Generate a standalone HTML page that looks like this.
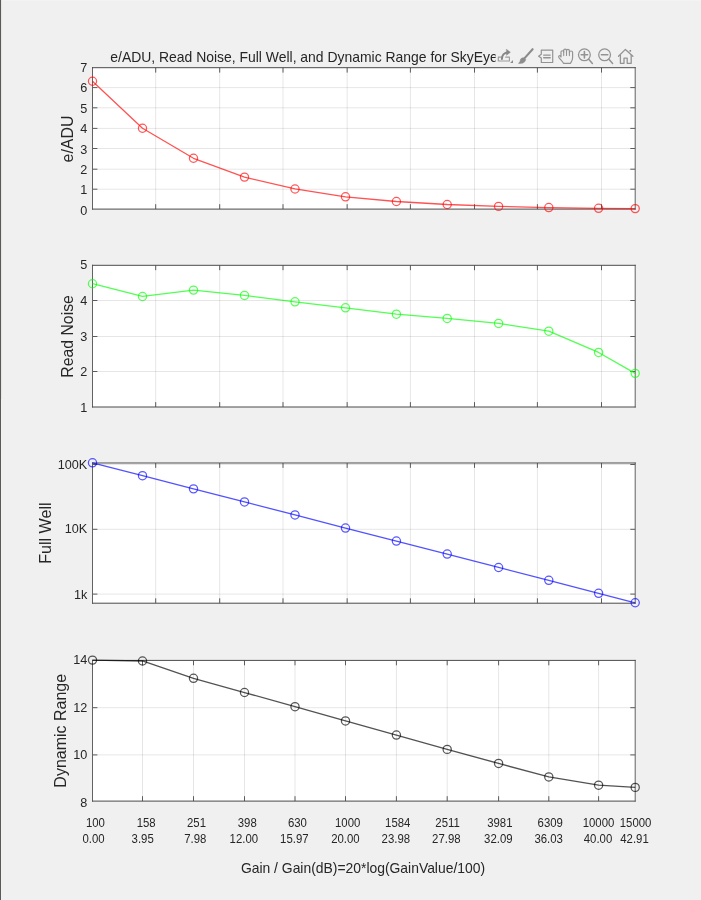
<!DOCTYPE html>
<html lang="en"><head><meta charset="utf-8"><title>e/ADU, Read Noise, Full Well, and Dynamic Range</title>
<style>html,body{margin:0;padding:0;background:#f0f0f0;overflow:hidden}svg{display:block}</style></head>
<body>
<svg width="701" height="900" viewBox="0 0 701 900" font-family='"Liberation Sans", sans-serif' fill="#262626">
<rect width="701" height="900" fill="#f0f0f0"/>
<rect x="0" y="0" width="701" height="1" fill="#f3f3f3"/>
<rect x="1" y="0" width="1" height="399" fill="#e6e6e6"/>
<rect x="1" y="399" width="1" height="501" fill="#f1f1f1"/>
<rect x="0" y="0" width="1" height="900" fill="#5a5a58"/>
<rect x="92.5" y="67.7" width="542.7" height="141.39999999999998" fill="#fff"/>
<path d="M155.70 67.7V209.1M219.70 67.7V209.1M283.00 67.7V209.1M347.15 67.7V209.1M410.40 67.7V209.1M474.50 67.7V209.1M537.40 67.7V209.1M601.50 67.7V209.1" stroke="#000" stroke-opacity="0.098" stroke-width="1" fill="none"/>
<path d="M92.5 189.20H635.2M92.5 169.20H635.2M92.5 148.50H635.2M92.5 128.40H635.2M92.5 107.80H635.2M92.5 87.60H635.2" stroke="#000" stroke-opacity="0.098" stroke-width="1" fill="none"/>
<path d="M155.7 209.1v-4.9M155.7 67.7v4.9M219.7 209.1v-4.9M219.7 67.7v4.9M283.0 209.1v-4.9M283.0 67.7v4.9M347.15 209.1v-4.9M347.15 67.7v4.9M410.4 209.1v-4.9M410.4 67.7v4.9M474.5 209.1v-4.9M474.5 67.7v4.9M537.4 209.1v-4.9M537.4 67.7v4.9M601.5 209.1v-4.9M601.5 67.7v4.9M92.5 189.2h4.9M635.2 189.2h-4.9M92.5 169.2h4.9M635.2 169.2h-4.9M92.5 148.5h4.9M635.2 148.5h-4.9M92.5 128.4h4.9M635.2 128.4h-4.9M92.5 107.8h4.9M635.2 107.8h-4.9M92.5 87.6h4.9M635.2 87.6h-4.9" stroke="#5c5c5c" stroke-width="1" fill="none"/>
<path d="M92.5 67.2V209.6M635.2 67.2V209.6" stroke="#626262" stroke-width="1" fill="none"/>
<path d="M92.0 67.7H635.7M92.0 209.1H635.7" stroke="#4a4a4a" stroke-width="1" fill="none"/>
<polyline points="92.50,81.23 142.50,128.24 193.50,158.28 244.50,177.12 295.00,188.97 345.50,196.79 396.40,201.51 447.20,204.50 498.60,206.38 548.80,207.57 598.60,208.32 635.20,208.60" fill="none" stroke="#ff0000" stroke-width="1.3" stroke-opacity="0.68" stroke-linejoin="round"/>
<circle cx="92.50" cy="81.23" r="4.1" fill="none" stroke="#ff0000" stroke-width="1.25" stroke-opacity="0.66"/>
<circle cx="142.50" cy="128.24" r="4.1" fill="none" stroke="#ff0000" stroke-width="1.25" stroke-opacity="0.66"/>
<circle cx="193.50" cy="158.28" r="4.1" fill="none" stroke="#ff0000" stroke-width="1.25" stroke-opacity="0.66"/>
<circle cx="244.50" cy="177.12" r="4.1" fill="none" stroke="#ff0000" stroke-width="1.25" stroke-opacity="0.66"/>
<circle cx="295.00" cy="188.97" r="4.1" fill="none" stroke="#ff0000" stroke-width="1.25" stroke-opacity="0.66"/>
<circle cx="345.50" cy="196.79" r="4.1" fill="none" stroke="#ff0000" stroke-width="1.25" stroke-opacity="0.66"/>
<circle cx="396.40" cy="201.51" r="4.1" fill="none" stroke="#ff0000" stroke-width="1.25" stroke-opacity="0.66"/>
<circle cx="447.20" cy="204.50" r="4.1" fill="none" stroke="#ff0000" stroke-width="1.25" stroke-opacity="0.66"/>
<circle cx="498.60" cy="206.38" r="4.1" fill="none" stroke="#ff0000" stroke-width="1.25" stroke-opacity="0.66"/>
<circle cx="548.80" cy="207.57" r="4.1" fill="none" stroke="#ff0000" stroke-width="1.25" stroke-opacity="0.66"/>
<circle cx="598.60" cy="208.32" r="4.1" fill="none" stroke="#ff0000" stroke-width="1.25" stroke-opacity="0.66"/>
<circle cx="635.20" cy="208.60" r="4.1" fill="none" stroke="#ff0000" stroke-width="1.25" stroke-opacity="0.66"/>
<text transform="translate(87.3 214.50) scale(.95 1)" text-anchor="end" font-size="13.33">0</text>
<text transform="translate(87.3 194.40) scale(.95 1)" text-anchor="end" font-size="13.33">1</text>
<text transform="translate(87.3 173.60) scale(.95 1)" text-anchor="end" font-size="13.33">2</text>
<text transform="translate(87.3 153.60) scale(.95 1)" text-anchor="end" font-size="13.33">3</text>
<text transform="translate(87.3 133.30) scale(.95 1)" text-anchor="end" font-size="13.33">4</text>
<text transform="translate(87.3 113.00) scale(.95 1)" text-anchor="end" font-size="13.33">5</text>
<text transform="translate(87.3 91.60) scale(.95 1)" text-anchor="end" font-size="13.33">6</text>
<text transform="translate(87.3 72.10) scale(.95 1)" text-anchor="end" font-size="13.33">7</text>
<text transform="translate(73 139.00) rotate(-90)" text-anchor="middle" font-size="15.9">e/ADU</text>
<text x="110.3" y="62" font-size="13.93">e/ADU, Read Noise, Full Well, and Dynamic Range for SkyEye</text>
<rect x="495.6" y="44" width="141.4" height="22.6" fill="#f0f0f0"/>
<rect x="92.5" y="265.3" width="542.7" height="141.7" fill="#fff"/>
<path d="M155.70 265.3V407.0M219.70 265.3V407.0M283.00 265.3V407.0M347.15 265.3V407.0M410.40 265.3V407.0M474.50 265.3V407.0M537.40 265.3V407.0M601.50 265.3V407.0" stroke="#000" stroke-opacity="0.098" stroke-width="1" fill="none"/>
<path d="M92.5 371.50H635.2M92.5 336.50H635.2M92.5 300.50H635.2" stroke="#000" stroke-opacity="0.098" stroke-width="1" fill="none"/>
<path d="M155.7 407.0v-4.9M155.7 265.3v4.9M219.7 407.0v-4.9M219.7 265.3v4.9M283.0 407.0v-4.9M283.0 265.3v4.9M347.15 407.0v-4.9M347.15 265.3v4.9M410.4 407.0v-4.9M410.4 265.3v4.9M474.5 407.0v-4.9M474.5 265.3v4.9M537.4 407.0v-4.9M537.4 265.3v4.9M601.5 407.0v-4.9M601.5 265.3v4.9M92.5 371.5h4.9M635.2 371.5h-4.9M92.5 336.5h4.9M635.2 336.5h-4.9M92.5 300.5h4.9M635.2 300.5h-4.9" stroke="#5c5c5c" stroke-width="1" fill="none"/>
<path d="M92.5 264.8V407.5M635.2 264.8V407.5" stroke="#626262" stroke-width="1" fill="none"/>
<path d="M92.0 265.3H635.7M92.0 407.0H635.7" stroke="#4a4a4a" stroke-width="1" fill="none"/>
<polyline points="92.50,283.72 142.50,296.47 193.50,290.10 244.50,295.41 295.00,301.79 345.50,307.81 396.40,314.19 447.20,318.44 498.60,323.40 548.80,331.19 598.60,352.45 635.20,373.35" fill="none" stroke="#00ff00" stroke-width="1.3" stroke-opacity="0.68" stroke-linejoin="round"/>
<circle cx="92.50" cy="283.72" r="4.1" fill="none" stroke="#00ff00" stroke-width="1.25" stroke-opacity="0.66"/>
<circle cx="142.50" cy="296.47" r="4.1" fill="none" stroke="#00ff00" stroke-width="1.25" stroke-opacity="0.66"/>
<circle cx="193.50" cy="290.10" r="4.1" fill="none" stroke="#00ff00" stroke-width="1.25" stroke-opacity="0.66"/>
<circle cx="244.50" cy="295.41" r="4.1" fill="none" stroke="#00ff00" stroke-width="1.25" stroke-opacity="0.66"/>
<circle cx="295.00" cy="301.79" r="4.1" fill="none" stroke="#00ff00" stroke-width="1.25" stroke-opacity="0.66"/>
<circle cx="345.50" cy="307.81" r="4.1" fill="none" stroke="#00ff00" stroke-width="1.25" stroke-opacity="0.66"/>
<circle cx="396.40" cy="314.19" r="4.1" fill="none" stroke="#00ff00" stroke-width="1.25" stroke-opacity="0.66"/>
<circle cx="447.20" cy="318.44" r="4.1" fill="none" stroke="#00ff00" stroke-width="1.25" stroke-opacity="0.66"/>
<circle cx="498.60" cy="323.40" r="4.1" fill="none" stroke="#00ff00" stroke-width="1.25" stroke-opacity="0.66"/>
<circle cx="548.80" cy="331.19" r="4.1" fill="none" stroke="#00ff00" stroke-width="1.25" stroke-opacity="0.66"/>
<circle cx="598.60" cy="352.45" r="4.1" fill="none" stroke="#00ff00" stroke-width="1.25" stroke-opacity="0.66"/>
<circle cx="635.20" cy="373.35" r="4.1" fill="none" stroke="#00ff00" stroke-width="1.25" stroke-opacity="0.66"/>
<text transform="translate(87.3 412.10) scale(.95 1)" text-anchor="end" font-size="13.33">1</text>
<text transform="translate(87.3 375.60) scale(.95 1)" text-anchor="end" font-size="13.33">2</text>
<text transform="translate(87.3 340.60) scale(.95 1)" text-anchor="end" font-size="13.33">3</text>
<text transform="translate(87.3 304.60) scale(.95 1)" text-anchor="end" font-size="13.33">4</text>
<text transform="translate(87.3 269.40) scale(.95 1)" text-anchor="end" font-size="13.33">5</text>
<text transform="translate(73 336.45) rotate(-90)" text-anchor="middle" font-size="15.8">Read Noise</text>
<rect x="92.5" y="463.0" width="542.7" height="140.20000000000005" fill="#fff"/>
<path d="M155.70 463.0V603.2M219.70 463.0V603.2M283.00 463.0V603.2M347.15 463.0V603.2M410.40 463.0V603.2M474.50 463.0V603.2M537.40 463.0V603.2M601.50 463.0V603.2" stroke="#000" stroke-opacity="0.098" stroke-width="1" fill="none"/>
<path d="M92.5 594.10H635.2M92.5 529.30H635.2M92.5 464.50H635.2" stroke="#000" stroke-opacity="0.098" stroke-width="1" fill="none"/>
<path d="M155.7 603.2v-4.9M155.7 463.0v4.9M219.7 603.2v-4.9M219.7 463.0v4.9M283.0 603.2v-4.9M283.0 463.0v4.9M347.15 603.2v-4.9M347.15 463.0v4.9M410.4 603.2v-4.9M410.4 463.0v4.9M474.5 603.2v-4.9M474.5 463.0v4.9M537.4 603.2v-4.9M537.4 463.0v4.9M601.5 603.2v-4.9M601.5 463.0v4.9M92.5 594.1h4.9M635.2 594.1h-4.9M92.5 529.3h4.9M635.2 529.3h-4.9M92.5 464.5h4.9M635.2 464.5h-4.9" stroke="#5c5c5c" stroke-width="1" fill="none"/>
<path d="M92.5 462.5V603.7M635.2 462.5V603.7" stroke="#626262" stroke-width="1" fill="none"/>
<path d="M92.0 463.0H635.7M92.0 603.2H635.7" stroke="#4a4a4a" stroke-width="1" fill="none"/>
<polyline points="92.50,462.82 142.50,475.70 193.50,488.85 244.50,501.96 295.00,514.91 345.50,528.05 396.40,541.04 447.20,554.08 498.60,567.49 548.80,580.34 598.60,593.29 635.20,602.78" fill="none" stroke="#0000ff" stroke-width="1.3" stroke-opacity="0.68" stroke-linejoin="round"/>
<circle cx="92.50" cy="462.82" r="4.1" fill="none" stroke="#0000ff" stroke-width="1.25" stroke-opacity="0.66"/>
<circle cx="142.50" cy="475.70" r="4.1" fill="none" stroke="#0000ff" stroke-width="1.25" stroke-opacity="0.66"/>
<circle cx="193.50" cy="488.85" r="4.1" fill="none" stroke="#0000ff" stroke-width="1.25" stroke-opacity="0.66"/>
<circle cx="244.50" cy="501.96" r="4.1" fill="none" stroke="#0000ff" stroke-width="1.25" stroke-opacity="0.66"/>
<circle cx="295.00" cy="514.91" r="4.1" fill="none" stroke="#0000ff" stroke-width="1.25" stroke-opacity="0.66"/>
<circle cx="345.50" cy="528.05" r="4.1" fill="none" stroke="#0000ff" stroke-width="1.25" stroke-opacity="0.66"/>
<circle cx="396.40" cy="541.04" r="4.1" fill="none" stroke="#0000ff" stroke-width="1.25" stroke-opacity="0.66"/>
<circle cx="447.20" cy="554.08" r="4.1" fill="none" stroke="#0000ff" stroke-width="1.25" stroke-opacity="0.66"/>
<circle cx="498.60" cy="567.49" r="4.1" fill="none" stroke="#0000ff" stroke-width="1.25" stroke-opacity="0.66"/>
<circle cx="548.80" cy="580.34" r="4.1" fill="none" stroke="#0000ff" stroke-width="1.25" stroke-opacity="0.66"/>
<circle cx="598.60" cy="593.29" r="4.1" fill="none" stroke="#0000ff" stroke-width="1.25" stroke-opacity="0.66"/>
<circle cx="635.20" cy="602.78" r="4.1" fill="none" stroke="#0000ff" stroke-width="1.25" stroke-opacity="0.66"/>
<text transform="translate(87.3 599.00) scale(.95 1)" text-anchor="end" font-size="13.33">1k</text>
<text transform="translate(87.3 533.10) scale(.95 1)" text-anchor="end" font-size="13.33">10K</text>
<text transform="translate(87.3 469.20) scale(.95 1)" text-anchor="end" font-size="13.33">100K</text>
<text transform="translate(50.6 533.10) rotate(-90)" text-anchor="middle" font-size="16.1">Full Well</text>
<rect x="92.5" y="660.4" width="542.7" height="140.70000000000005" fill="#fff"/>
<path d="M142.50 660.4V801.1M193.50 660.4V801.1M244.50 660.4V801.1M295.00 660.4V801.1M345.50 660.4V801.1M396.40 660.4V801.1M447.20 660.4V801.1M498.60 660.4V801.1M548.80 660.4V801.1M598.60 660.4V801.1" stroke="#000" stroke-opacity="0.098" stroke-width="1" fill="none"/>
<path d="M92.5 754.90H635.2M92.5 707.70H635.2" stroke="#000" stroke-opacity="0.098" stroke-width="1" fill="none"/>
<path d="M142.5 801.1v-4.9M142.5 660.4v4.9M193.5 801.1v-4.9M193.5 660.4v4.9M244.5 801.1v-4.9M244.5 660.4v4.9M295.0 801.1v-4.9M295.0 660.4v4.9M345.5 801.1v-4.9M345.5 660.4v4.9M396.4 801.1v-4.9M396.4 660.4v4.9M447.2 801.1v-4.9M447.2 660.4v4.9M498.6 801.1v-4.9M498.6 660.4v4.9M548.8 801.1v-4.9M548.8 660.4v4.9M598.6 801.1v-4.9M598.6 660.4v4.9M92.5 754.9h4.9M635.2 754.9h-4.9M92.5 707.7h4.9M635.2 707.7h-4.9" stroke="#5c5c5c" stroke-width="1" fill="none"/>
<path d="M92.5 659.9V801.6M635.2 659.9V801.6" stroke="#626262" stroke-width="1" fill="none"/>
<path d="M92.0 660.4H635.7M92.0 801.1H635.7" stroke="#4a4a4a" stroke-width="1" fill="none"/>
<polyline points="92.50,660.10 142.50,660.99 193.50,678.34 244.50,692.53 295.00,706.71 345.50,720.90 396.40,735.09 447.20,749.39 498.60,763.46 548.80,776.95 598.60,785.15 635.20,787.38" fill="none" stroke="#000000" stroke-width="1.3" stroke-opacity="0.68" stroke-linejoin="round"/>
<circle cx="92.50" cy="660.10" r="4.1" fill="none" stroke="#000000" stroke-width="1.25" stroke-opacity="0.66"/>
<circle cx="142.50" cy="660.99" r="4.1" fill="none" stroke="#000000" stroke-width="1.25" stroke-opacity="0.66"/>
<circle cx="193.50" cy="678.34" r="4.1" fill="none" stroke="#000000" stroke-width="1.25" stroke-opacity="0.66"/>
<circle cx="244.50" cy="692.53" r="4.1" fill="none" stroke="#000000" stroke-width="1.25" stroke-opacity="0.66"/>
<circle cx="295.00" cy="706.71" r="4.1" fill="none" stroke="#000000" stroke-width="1.25" stroke-opacity="0.66"/>
<circle cx="345.50" cy="720.90" r="4.1" fill="none" stroke="#000000" stroke-width="1.25" stroke-opacity="0.66"/>
<circle cx="396.40" cy="735.09" r="4.1" fill="none" stroke="#000000" stroke-width="1.25" stroke-opacity="0.66"/>
<circle cx="447.20" cy="749.39" r="4.1" fill="none" stroke="#000000" stroke-width="1.25" stroke-opacity="0.66"/>
<circle cx="498.60" cy="763.46" r="4.1" fill="none" stroke="#000000" stroke-width="1.25" stroke-opacity="0.66"/>
<circle cx="548.80" cy="776.95" r="4.1" fill="none" stroke="#000000" stroke-width="1.25" stroke-opacity="0.66"/>
<circle cx="598.60" cy="785.15" r="4.1" fill="none" stroke="#000000" stroke-width="1.25" stroke-opacity="0.66"/>
<circle cx="635.20" cy="787.38" r="4.1" fill="none" stroke="#000000" stroke-width="1.25" stroke-opacity="0.66"/>
<text transform="translate(87.3 806.70) scale(.95 1)" text-anchor="end" font-size="13.33">8</text>
<text transform="translate(87.3 759.40) scale(.95 1)" text-anchor="end" font-size="13.33">10</text>
<text transform="translate(87.3 712.00) scale(.95 1)" text-anchor="end" font-size="13.33">12</text>
<text transform="translate(87.3 664.30) scale(.95 1)" text-anchor="end" font-size="13.33">14</text>
<text transform="translate(66.2 730.75) rotate(-90)" text-anchor="middle" font-size="16.0">Dynamic Range</text>
<text transform="translate(85.92 826.8) scale(0.9500 1)" font-size="12">100</text>
<text transform="translate(82.53 843.3) scale(0.9500 1)" font-size="12">0.00</text>
<text transform="translate(136.64 826.8) scale(0.9500 1)" font-size="12">158</text>
<text transform="translate(131.56 843.3) scale(0.9500 1)" font-size="12">3.95</text>
<text transform="translate(187.04 826.8) scale(0.9500 1)" font-size="12">251</text>
<text transform="translate(184.16 843.3) scale(0.9500 1)" font-size="12">7.98</text>
<text transform="translate(237.79 826.8) scale(0.9500 1)" font-size="12">398</text>
<text transform="translate(229.59 843.3) scale(0.9500 1)" font-size="12">12.00</text>
<text transform="translate(287.94 826.8) scale(0.9500 1)" font-size="12">630</text>
<text transform="translate(280.09 843.3) scale(0.9500 1)" font-size="12">15.97</text>
<text transform="translate(334.97 826.8) scale(0.9500 1)" font-size="12">1000</text>
<text transform="translate(331.14 843.3) scale(0.9500 1)" font-size="12">20.00</text>
<text transform="translate(385.07 826.8) scale(0.9500 1)" font-size="12">1584</text>
<text transform="translate(381.59 843.3) scale(0.9500 1)" font-size="12">23.98</text>
<text transform="translate(435.35 826.8) scale(0.9500 1)" font-size="12">2511</text>
<text transform="translate(432.09 843.3) scale(0.9500 1)" font-size="12">27.98</text>
<text transform="translate(487.17 826.8) scale(0.9500 1)" font-size="12">3981</text>
<text transform="translate(484.09 843.3) scale(0.9500 1)" font-size="12">32.09</text>
<text transform="translate(537.62 826.8) scale(0.9500 1)" font-size="12">6309</text>
<text transform="translate(534.39 843.3) scale(0.9500 1)" font-size="12">36.03</text>
<text transform="translate(582.70 826.8) scale(0.9500 1)" font-size="12">10000</text>
<text transform="translate(583.79 843.3) scale(0.9500 1)" font-size="12">40.00</text>
<text transform="translate(619.75 826.8) scale(0.9500 1)" font-size="12">15000</text>
<text transform="translate(620.24 843.3) scale(0.9500 1)" font-size="12">42.91</text>
<text x="363" y="873" text-anchor="middle" font-size="13.9">Gain / Gain(dB)=20*log(GainValue/100)</text>
<g fill="none" stroke="#939393" stroke-width="1.3" stroke-linejoin="round" stroke-linecap="round">
<!-- export -->
<path d="M501.8 57.1H498.3V61H509.4V57.1H505.6" stroke="#9c9c9c" stroke-width="1.1"/>
<path d="M501.9 59C502 55.4 504.2 52.6 507.4 52.4" stroke="#868686" stroke-width="2"/>
<path d="M506.7 49.6L510.3 52.3L506.7 55Z" fill="#868686" stroke="#868686" stroke-width="0.6"/>
<path d="M513 60V62.9H510.1Z" fill="#8a8a8a" stroke="none"/>
<!-- brush -->
<path d="M532.6 49.2L524.4 58.4" stroke="#8c8c8c" stroke-width="2.1"/>
<path d="M523.8 57.8C521.2 57.5 520.2 59.3 520.1 61.1C520 62.2 519.2 62.9 518.4 63.3C521.2 63.9 525.3 63.2 525.7 59.6Z" fill="#8c8c8c" stroke="#8c8c8c" stroke-width="0.5"/>
<!-- datatip -->
<path d="M541.3 50.1H552.7V62.5H541.3V58.1L538.6 56.2L541.3 54.3Z" stroke-width="1.2"/>
<path d="M543.7 55.1H550.2M543.7 57.7H550.2" stroke-width="1.4"/>
<!-- hand -->
<path d="M561 57V52.1a1.35 1.35 0 0 1 2.7 0V50.5a1.4 1.4 0 0 1 2.8 0V50.9a1.45 1.45 0 0 1 2.9 0V52.6a1.6 1.6 0 0 1 3.2 0V57.4C572.6 60.4 571.3 61.8 570.5 63.3H563.5C562.7 61.3 560.3 59.7 558.9 57.5C558.1 56.1 559.5 55 560.4 55.9Z" stroke-width="1.2"/>
<path d="M563.7 52.1V55.6M566.5 50.9V55.4M569.4 52.6V55.6" stroke-width="1.1"/>
<!-- zoom in -->
<circle cx="584.4" cy="54.8" r="5.9" stroke-width="1.25"/>
<path d="M588.7 59.2L592.4 63.5" stroke-width="1.5"/>
<path d="M581.2 54.8H587.6M584.4 51.6V58" stroke-width="1.6"/>
<!-- zoom out -->
<circle cx="604.6" cy="54.8" r="5.9" stroke-width="1.25"/>
<path d="M608.9 59.2L612.6 63.5" stroke-width="1.5"/>
<path d="M601.4 54.8H607.8" stroke-width="1.6"/>
<!-- home -->
<path d="M618.5 56.2L625.4 49.4L632.9 56.2" stroke-width="1.3"/>
<path d="M620.4 55.4V63.3H624V58.2H627.2V63.3H631.2V55.4" stroke-width="1.3"/>
<rect x="629.5" y="50" width="1.6" height="1.7" fill="#8a8a8a" stroke="none"/>
</g>

</svg>
</body></html>
